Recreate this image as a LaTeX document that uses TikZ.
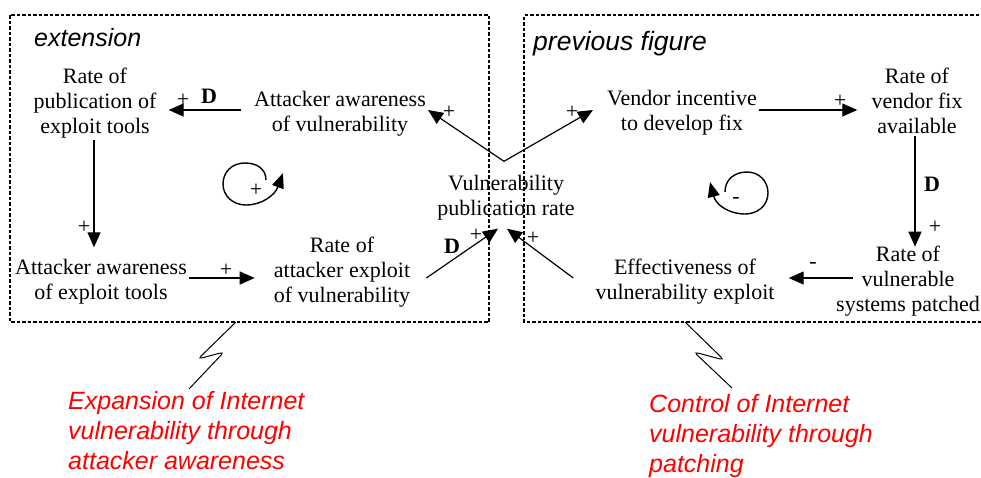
\documentclass[tikz,border=0pt]{standalone}
\usepackage{fontspec}
\setmainfont{Liberation Serif}
\newfontfamily\arialfont{Liberation Sans}
\usetikzlibrary{arrows.meta,calc}
\definecolor{redtxt}{RGB}{255,0,0}
\begin{document}
\begin{tikzpicture}[x=1pt,y=-1pt,
  txt/.style={align=center,inner sep=2pt,font=\fontsize{22}{25}\selectfont},
  lbl/.style={inner sep=0pt,font=\fontsize{22}{24}\selectfont},
  dlbl/.style={inner sep=0pt,font=\fontsize{22}{25}\selectfont\bfseries},
  arr/.style={line width=1.2pt,-{Triangle[length=15pt,width=13pt]}},
  loopl/.style={line width=1.4pt,-{Triangle[length=15pt,width=12pt]}},
  boxl/.style={line width=1.4pt,dash pattern=on 3.5pt off 2pt},
  zig/.style={line width=1pt,rounded corners=4pt},
  title/.style={inner sep=0pt,anchor=base west,font=\arialfont\itshape},
  redt/.style={inner sep=0pt,anchor=north west,align=left,text=redtxt,font=\arialfont\itshape\fontsize{25}{30}\selectfont}]
\useasboundingbox (0,0) rectangle (981,477);

% boxes
\draw[boxl] (10,15) rectangle (489,322);
\draw[boxl] (990,15) -- (524,15) -- (524,322) -- (990,322);

% titles
\node[title,font=\arialfont\itshape\fontsize{25}{30}\selectfont] (t1) at (34,46) {extension};
\node[title,font=\arialfont\itshape\fontsize{26.5}{30}\selectfont] (t2) at (533,50) {previous figure};

% nodes
\node[txt] (rpe) at (95,103) {Rate of\\publication of\\exploit tools};
\node[txt] (aav) at (340,114) {Attacker awareness\\of vulnerability};
\node[txt] (aet) at (101,282) {Attacker awareness\\of exploit tools};
\node[txt] (rae) at (342,272) {Rate of\\attacker exploit\\of vulnerability};
\node[txt] (vpr) at (506,198) {Vulnerability\\publication rate};
\node[txt] (vin) at (682,113) {Vendor incentive\\to develop fix};
\node[txt] (rvf) at (917,101) {Rate of\\vendor fix\\available};
\node[txt] (eff) at (685,282) {Effectiveness of\\vulnerability exploit};
\node[txt] (rvp) at (908,281) {Rate of\\vulnerable\\systems patched};

% connectors
\draw[arr] ([xshift=-11pt,yshift=4pt]aav.west) -- ([xshift=10pt,yshift=-7pt]rpe.east);
\draw[arr] ([xshift=-1pt]rpe.south) -- ([xshift=-7pt,yshift=10pt]aet.north);
\draw[arr] ([yshift=4pt]aet.east) -- ([xshift=-17pt,yshift=-6pt]rae.west);
\draw[arr] ([xshift=14pt,yshift=-6pt]rae.east) -- ([xshift=-8pt,yshift=-6pt]vpr.south);
\draw[arr] ([xshift=-20pt,yshift=4pt]eff.west) -- ([xshift=1pt,yshift=-6pt]vpr.south);
\draw[arr] ([xshift=-2pt,yshift=12pt]vpr.north) -- ([yshift=4pt]aav.east);
\draw[arr] ([xshift=-2pt,yshift=12pt]vpr.north) -- ([xshift=-12pt,yshift=3pt]vin.west);
\draw[arr] ([yshift=3pt]vin.east) -- ([xshift=-12pt,yshift=-9pt]rvf.west);
\draw[arr] ([xshift=-2pt]rvf.south) -- ([xshift=7pt,yshift=-3pt]rvp.north);
\draw[arr] ([xshift=19pt,yshift=3pt]rvp.west) -- ([xshift=12pt,yshift=4pt]eff.east);

% link labels
\node[lbl] (l1) at (183,100) {+};
\node[dlbl] (d1) at (209,96) {D};
\node[lbl] (l2) at (84,227) {+};
\node[lbl] (l3) at (226,270) {+};
\node[dlbl] (d2) at (452,246) {D};
\node[lbl] (l4) at (476,235) {+};
\node[lbl] (l5) at (533,238) {+};
\node[lbl] (l6) at (449,112) {+};
\node[lbl] (l7) at (572,112) {+};
\node[lbl] (l8) at (840,101) {+};
\node[dlbl] (d3) at (932,184) {D};
\node[lbl] (l9) at (935,227) {+};
\node[lbl] (l10) at (813,265) {-};

% loops
\draw[loopl] (266,180) .. controls (266,169) and (257,163) .. (245,163)
  .. controls (232,163) and (223,172) .. (223,184)
  .. controls (223,196) and (233,205) .. (246,205)
  .. controls (262,205) and (275,195) .. (283,173);
\node[lbl] (lp1) at (256,190) {+};
\draw[loopl] (725,192) .. controls (725,179) and (735,172) .. (747,172)
  .. controls (759,172) and (768,181) .. (768,193)
  .. controls (768,206) and (757,214) .. (745,214)
  .. controls (729,214) and (716,205) .. (710,182);
\node[lbl] (lp2) at (736,200) {-};

% zigzags
\coordinate (z1) at (236,322);
\coordinate (z2) at (189,389);
\draw[zig] (z1) -- (198,359) -- (224,352) -- (z2);
\coordinate (z3) at (685,322);
\coordinate (z4) at (732,388);
\draw[zig] (z3) -- (724,360) -- (694,352) -- (z4);

% red captions
\node[redt] (c1) at (68,391) {Expansion of Internet\\vulnerability through\\attacker awareness};
\node[redt] (c2) at (649,394) {Control of Internet\\vulnerability through\\patching};
\end{tikzpicture}
\end{document}
